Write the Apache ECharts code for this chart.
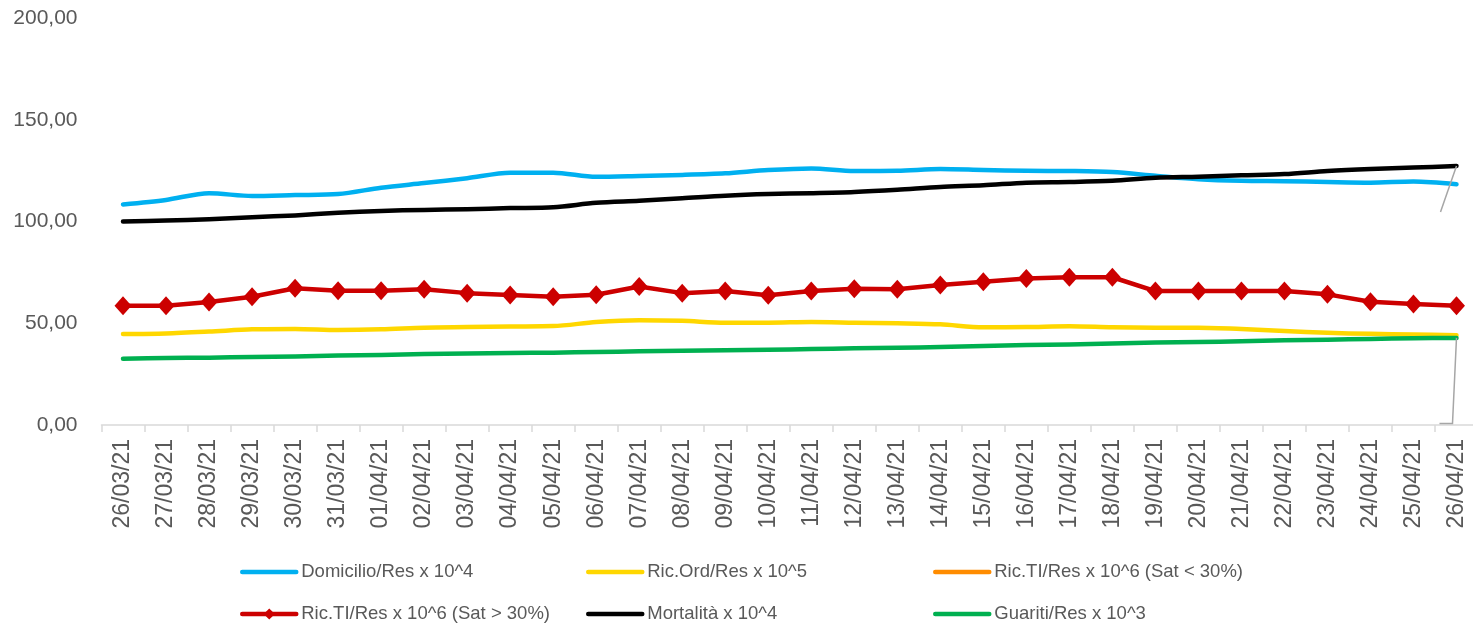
<!DOCTYPE html>
<html>
<head>
<meta charset="utf-8">
<script src="https://cdn.jsdelivr.net/npm/echarts@6/dist/echarts.min.js"></script>
<style>
  html, body { margin: 0; padding: 0; background: #ffffff; }
  #chart { width: 1473px; height: 629px; }
</style>
</head>
<body>
<div id="chart"></div>
<script>
// Daily dates
const dates = [
  '26/03/21', '27/03/21', '28/03/21', '29/03/21', '30/03/21', '31/03/21',
  '01/04/21', '02/04/21', '03/04/21', '04/04/21', '05/04/21', '06/04/21',
  '07/04/21', '08/04/21', '09/04/21', '10/04/21', '11/04/21', '12/04/21',
  '13/04/21', '14/04/21', '15/04/21', '16/04/21', '17/04/21', '18/04/21',
  '19/04/21', '20/04/21', '21/04/21', '22/04/21', '23/04/21', '24/04/21',
  '25/04/21', '26/04/21'
];

// Indicators per resident
const domicilio = [108.4, 110.6, 113.9, 112.5, 113.0, 113.5, 116.6, 118.9, 121.3, 124.0, 124.0, 122.0,
  122.4, 122.9, 123.7, 125.3, 126.1, 124.8, 124.9, 125.8, 125.3, 124.9, 124.8, 124.3,
  122.5, 120.8, 120.0, 119.8, 119.4, 119.1, 119.6, 118.3];
const ricOrd = [44.7, 45.0, 45.9, 47.0, 47.2, 46.7, 47.0, 47.8, 48.1, 48.4, 48.6, 50.6,
  51.5, 51.2, 50.3, 50.3, 50.6, 50.3, 50.0, 49.5, 48.0, 48.1, 48.5, 48.0,
  47.8, 47.8, 47.2, 46.2, 45.3, 44.8, 44.5, 44.1];
const ricTiLow = [];
const ricTiHigh = [58.6, 58.6, 60.4, 63.0, 67.2, 66.0, 66.0, 66.7, 64.8, 63.9, 63.0, 64.0,
  68.1, 64.8, 65.8, 63.8, 65.8, 67.0, 66.7, 68.8, 70.4, 72.0, 72.6, 72.6,
  65.8, 65.8, 65.8, 65.8, 64.2, 60.6, 59.5, 58.6];
const mortalita = [100.0, 100.5, 101.1, 102.1, 103.0, 104.3, 105.2, 105.7, 106.0, 106.6, 107.0, 109.2,
  110.2, 111.4, 112.7, 113.5, 113.9, 114.5, 115.6, 117.0, 117.8, 119.1, 119.4, 120.0,
  121.5, 122.0, 122.7, 123.3, 124.8, 125.8, 126.5, 127.3];
const guariti = [32.6, 32.9, 33.1, 33.4, 33.7, 34.2, 34.4, 34.9, 35.1, 35.4, 35.5, 35.9,
  36.2, 36.5, 36.7, 37.0, 37.3, 37.7, 38.0, 38.3, 38.8, 39.3, 39.6, 40.1,
  40.5, 40.8, 41.1, 41.6, 41.9, 42.3, 42.6, 42.8];

const names = [
  'Domicilio/Res x 10^4',
  'Ric.Ord/Res x 10^5',
  'Ric.TI/Res x 10^6 (Sat < 30%)',
  'Ric.TI/Res x 10^6 (Sat > 30%)',
  'Mortalità x 10^4',
  'Guariti/Res x 10^3'
];

const FONT = 'Liberation Sans';
const GREY_TEXT = '#595959';

function plainLine(name, data, color) {
  return {
    name: name,
    type: 'line',
    data: data,
    symbol: 'none',
    smooth: 0.3,
    lineStyle: { color: color, width: 4.5, cap: 'round', join: 'round' },
    itemStyle: { color: color },
    emphasis: { disabled: true }
  };
}

// One legend entry per slot of the 3 x 2 legend table
function legendItem(name, left, top, withMarker) {
  return {
    orient: 'horizontal',
    left: left,
    top: top,
    padding: 0,
    itemWidth: 54,
    itemHeight: 14,
    data: [name],
    selectedMode: false,
    lineStyle: { width: 4.5, cap: 'round' },
    itemStyle: withMarker ? {} : { opacity: 0 },
    textStyle: { fontFamily: FONT, fontSize: 18.5, color: GREY_TEXT, lineHeight: 20 }
  };
}

const chart = echarts.init(document.getElementById('chart'), null, { renderer: 'canvas' });

chart.setOption({
  animation: false,
  backgroundColor: '#ffffff',
  grid: {
    left: 101.5, right: -5, top: 18, bottom: 204,
    containLabel: false, outerBoundsMode: 'none'
  },
  legend: [
    legendItem(names[0], 240, 562, false),
    legendItem(names[1], 586, 562, false),
    legendItem(names[2], 933, 562, false),
    legendItem(names[3], 240, 604, true),
    legendItem(names[4], 586, 604, false),
    legendItem(names[5], 933, 604, false)
  ],
  xAxis: {
    type: 'category',
    data: dates,
    boundaryGap: true,
    axisLine: { lineStyle: { color: '#d9d9d9', width: 1.5 } },
    axisTick: { show: true, interval: 0, length: 7, lineStyle: { color: '#d9d9d9', width: 1.5 } },
    axisLabel: {
      interval: 0, rotate: 90, margin: 14,
      fontFamily: FONT, fontSize: 23, color: GREY_TEXT
    },
    splitLine: { show: false }
  },
  yAxis: {
    type: 'value',
    min: 0, max: 200, interval: 50,
    axisLine: { show: false },
    axisTick: { show: false },
    splitLine: { show: false },
    axisLabel: {
      margin: 24,
      fontFamily: FONT, fontSize: 21, color: GREY_TEXT,
      formatter: v => v.toFixed(2).replace('.', ',')
    }
  },
  series: [
    plainLine(names[0], domicilio, '#00b0f0'),
    plainLine(names[1], ricOrd, '#ffd700'),
    plainLine(names[2], ricTiLow, '#ff8c00'),
    {
      name: names[3],
      type: 'line',
      data: ricTiHigh,
      symbol: 'diamond',
      symbolSize: [17, 19],
      lineStyle: { color: '#cc0000', width: 4.5, cap: 'round', join: 'round' },
      itemStyle: { color: '#cc0000' },
      emphasis: { disabled: true }
    },
    plainLine(names[4], mortalita, '#000000'),
    plainLine(names[5], guariti, '#00b050')
  ]
});

// Leader lines of the last points
const last = dates.length - 1;
const pMort = chart.convertToPixel({ gridIndex: 0 }, [dates[last], mortalita[last]]);
const pGuar = chart.convertToPixel({ gridIndex: 0 }, [dates[last], guariti[last]]);
const pBase = chart.convertToPixel({ gridIndex: 0 }, [dates[last], 0]);
const leader = { stroke: '#a6a6a6', lineWidth: 1.5, fill: null };
chart.setOption({
  graphic: [
    {
      type: 'polyline', silent: true, z: 10,
      shape: { points: [[pMort[0], pMort[1]], [pMort[0] - 16, pMort[1] + 46]] },
      style: leader
    },
    {
      type: 'polyline', silent: true, z: 10,
      shape: { points: [[pGuar[0], pGuar[1]], [pGuar[0] - 4, pBase[1] - 1.5], [pGuar[0] - 17, pBase[1] - 1.5]] },
      style: leader
    }
  ]
});
</script>
</body>
</html>
